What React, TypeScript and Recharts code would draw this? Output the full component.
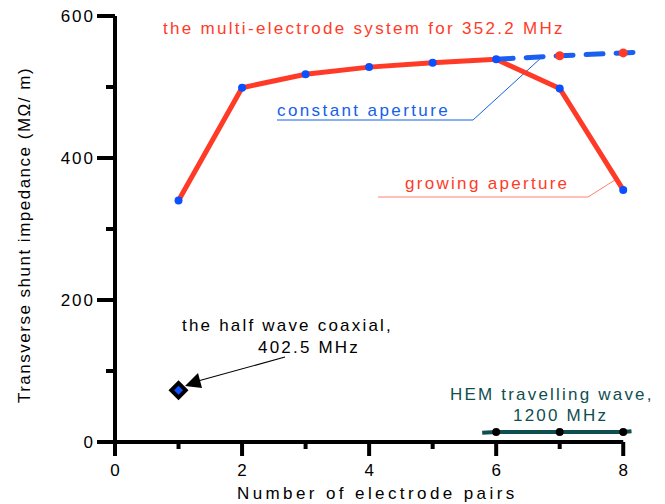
import {
  ComposedChart,
  Line,
  Scatter,
  XAxis,
  YAxis,
  ReferenceLine,
  Customized,
} from 'recharts'

// multi-electrode system, 352.2 MHz
const pairs = [1, 2, 3, 4, 5, 6, 7, 8]
const growingAperture = [340, 499, 518, 528, 534, 539, 498, 355]
const constantPairs = [6, 7, 8, 8.22]
const constantAperture = [539, 544, 548, 549]

// HEM travelling wave, 1200 MHz
const hemPairs = [5.78, 6, 7, 8, 8.13]
const hemValues = [13, 14, 14, 14, 15]

// half wave coaxial, 402.5 MHz
const coaxPairs = [1]
const coaxValues = [73]

const xTicks = [0, 1, 2, 3, 4, 5, 6, 7, 8]
const yTicks = [0, 100, 200, 300, 400, 500, 600]

const growingData = pairs.map((x, i) => ({ x, y: growingAperture[i] }))
const constantData = constantPairs.map((x, i) => ({ x, y: constantAperture[i] }))
const hemData = hemPairs.map((x, i) => ({ x, y: hemValues[i] }))
const coaxData = coaxPairs.map((x, i) => ({ x, y: coaxValues[i] }))

const FONT = 'Liberation Sans, Arial, sans-serif'
const RED = '#ff3b28'
const BLUE = '#0a50ff'
const TEAL = '#0f4f50'

const YTick = (props: any) => {
  const { x, y, payload } = props
  const major = payload.value % 200 === 0
  return (
    <g>
      <line x1={x} x2={x - (major ? 18 : 9)} y1={y} y2={y} stroke='#000' strokeWidth={4} />
      {major && (
        <text x={x - 20} y={y + 6} textAnchor='end' fontSize={17} letterSpacing={2} fontFamily={FONT} fill='#000'>
          {payload.value}
        </text>
      )}
    </g>
  )
}

const XTick = (props: any) => {
  const { x, y, payload } = props
  const major = payload.value % 2 === 0
  return (
    <g>
      <line x1={x} x2={x} y1={y} y2={y + (major ? 14 : 7)} stroke='#000' strokeWidth={4} />
      {major && (
        <text x={x + 1} y={y + 34} textAnchor='middle' fontSize={17} letterSpacing={2} fontFamily={FONT} fill='#000'>
          {payload.value}
        </text>
      )}
    </g>
  )
}

const Annotations = () => (
  <g fontFamily={FONT} fontSize={17}>
    <text x={163} y={34} fill={RED} letterSpacing={2.3}>
      the multi-electrode system for 352.2 MHz
    </text>
    <text x={277} y={116} fill='#1560e8' letterSpacing={2.4}>
      constant aperture
    </text>
    <polyline points='277,120 473,120 542,57' fill='none' stroke='#1560e8' strokeWidth={1} />
    <text x={405} y={189} fill={RED} letterSpacing={2.3}>
      growing aperture
    </text>
    <polyline points='378,197 588,197 615,180' fill='none' stroke='#ff8070' strokeWidth={1} />
    <text x={182} y={331} fill='#000' letterSpacing={2.2}>
      the half wave coaxial,
    </text>
    <text x={258} y={353} fill='#000' letterSpacing={2.2}>
      402.5 MHz
    </text>
    <line x1={285} y1={357} x2={198} y2={381} stroke='#000' strokeWidth={1.2} />
    <polygon points='185,386 202,388 198,373' fill='#000' />
    <text x={450} y={400} fill={TEAL} letterSpacing={2.2}>
      HEM travelling wave,
    </text>
    <text x={513} y={421} fill={TEAL} letterSpacing={2.2}>
      1200 MHz
    </text>
    <text x={237} y={499} fill='#000' letterSpacing={3.4}>
      Number of electrode pairs
    </text>
    <text x={30} y={235} fill='#000' letterSpacing={1.5} textAnchor='middle' transform='rotate(-90 30 235)'>
      Transverse shunt impedance (MΩ/ m)
    </text>
  </g>
)

const constantDot = (p: any) => {
  if (p.payload.x === 7 || p.payload.x === 8) {
    return <circle key={p.index} cx={p.cx} cy={p.cy} r={4.5} fill={RED} />
  }
  return <g key={p.index} />
}

const hemDot = (p: any) => {
  if (Number.isInteger(p.payload.x)) {
    return <circle key={p.index} cx={p.cx} cy={p.cy} r={4} fill='#000' />
  }
  return <g key={p.index} />
}

const Diamond = (p: any) => {
  const { cx, cy } = p
  return (
    <g>
      <polygon points={`${cx - 10},${cy} ${cx},${cy - 10} ${cx + 10},${cy} ${cx},${cy + 10}`} fill='#000' />
      <polygon points={`${cx - 4.5},${cy} ${cx},${cy - 4.5} ${cx + 4.5},${cy} ${cx},${cy + 4.5}`} fill={BLUE} />
    </g>
  )
}

export default function App() {
  return (
    <div style={{ position: 'absolute', left: 0, top: 0, background: '#fff' }}>
      <ComposedChart width={665} height={504} margin={{ top: 16, right: 10, bottom: 0, left: 0 }}>
        <XAxis
          type='number'
          dataKey='x'
          domain={[0, 8.5]}
          ticks={xTicks}
          allowDataOverflow
          height={62}
          axisLine={false}
          tickLine={false}
          tickSize={0}
          tickMargin={0}
          tick={<XTick />}
          interval={0}
        />
        <YAxis
          type='number'
          domain={[0, 600]}
          ticks={yTicks}
          width={115}
          axisLine={{ stroke: '#000', strokeWidth: 4 }}
          tickLine={false}
          tickSize={0}
          tickMargin={0}
          tick={<YTick />}
          interval={0}
        />
        <ReferenceLine segment={[{ x: 0, y: 0 }, { x: 8, y: 0 }]} stroke='#000' strokeWidth={4} />
        <Line
          data={growingData}
          dataKey='y'
          stroke={RED}
          strokeWidth={5}
          dot={{ r: 4, fill: BLUE, stroke: 'none' }}
          isAnimationActive={false}
        />
        <Line
          data={constantData}
          dataKey='y'
          stroke='#1a5ff0'
          strokeWidth={5}
          strokeDasharray='17 13'
          strokeLinecap='round'
          dot={constantDot}
          isAnimationActive={false}
        />
        <Line
          data={hemData}
          dataKey='y'
          stroke={TEAL}
          strokeWidth={4}
          dot={hemDot}
          isAnimationActive={false}
        />
        <Scatter data={coaxData} dataKey='y' shape={<Diamond />} isAnimationActive={false} />
        <Customized component={Annotations} />
      </ComposedChart>
    </div>
  )
}
